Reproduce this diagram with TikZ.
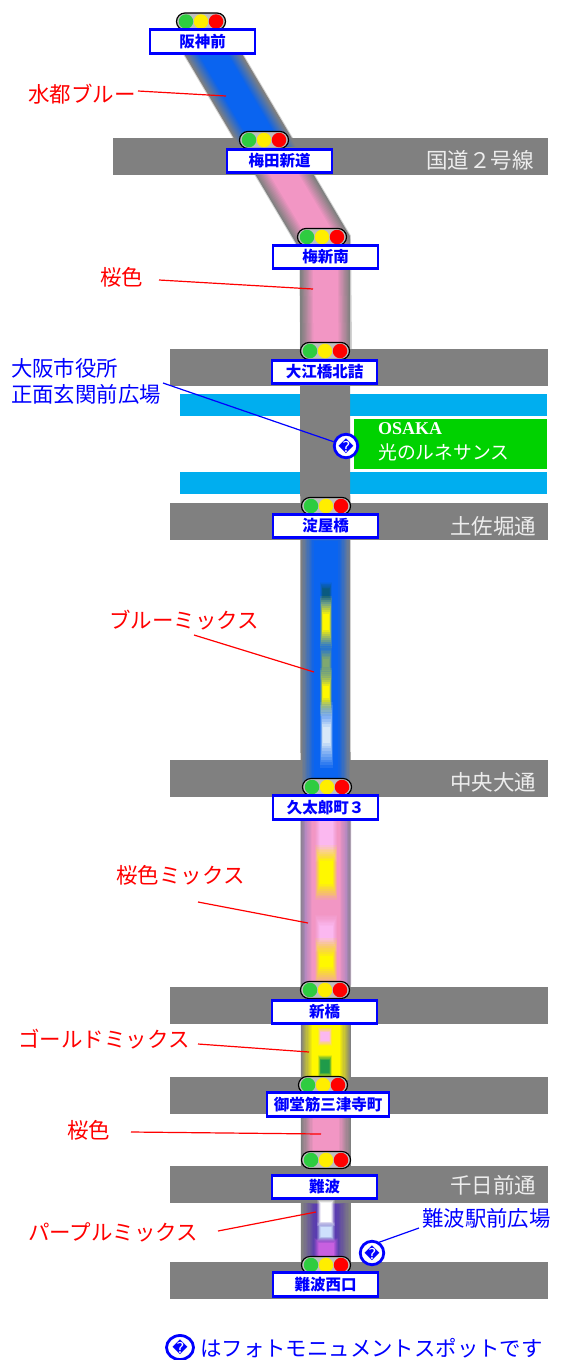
\documentclass[tikz,border=0pt]{standalone}
\usepackage{fontspec}
\usetikzlibrary{shapes.geometric}
\setmainfont{Noto Sans CJK JP}
\newfontfamily\uni{DejaVu Sans}
\newfontfamily\osk{Liberation Serif}
\definecolor{roadgray}{HTML}{808080}
\definecolor{rivercol}{HTML}{00AEEF}
\definecolor{parkcol}{HTML}{00D200}
\definecolor{bluecol}{HTML}{0A64F0}
\definecolor{pinkcol}{HTML}{F296C4}
\definecolor{mauve}{HTML}{B088C0}
\definecolor{lpink}{HTML}{FBB8F0}
\definecolor{yelcol}{HTML}{FFF800}
\definecolor{purpcol}{HTML}{5A3CB0}
\definecolor{orchid}{HTML}{C860E0}
\definecolor{teal}{HTML}{0A5A80}
\definecolor{olive}{HTML}{7FA870}
\definecolor{golgreen}{HTML}{1F9B4A}
\definecolor{palew}{HTML}{D8E8F8}
\definecolor{roadtxt}{HTML}{EDEDED}
\definecolor{lampg}{HTML}{2ECC40}
\definecolor{lampy}{HTML}{FFEE00}
% soft-edged block: linear ramp over ten nested layers
\newcommand\blob[7]{\foreach \k in {1,...,10}{\pgfmathsetmacro\aa{1/(11-\k)}\fill[#5,opacity=\aa] ({#1+(\k-1)*#6},{#3+(\k-1)*#7}) rectangle ({#2-(\k-1)*#6},{#4-(\k-1)*#7});}}
\newcommand\sig[3]{%
  \node[pill] (#1) at (#2,#3) {};
  \node[lamp,fill=lampg] (#1g) at (#2-15,#3) {};
  \node[lamp,fill=lampy] (#1y) at (#2,#3) {};
  \node[lamp,fill=red] (#1r) at (#2+15,#3) {};
}
\tikzset{
  x=1pt,y=-1pt,
  band/.style={fill=roadgray},
  pill/.style={draw=black,line width=1.2pt,fill=black!25,rounded corners=8.5pt,minimum width=49pt,minimum height=17pt,inner sep=0pt},
  lamp/.style={circle,minimum size=14.5pt,inner sep=0pt},
  stn/.style={draw=blue,line width=2.7pt,fill=white,text=blue,inner sep=0pt,minimum width=105pt,minimum height=23.5pt,font=\fontsize{15.5}{15.5}\selectfont\bfseries},
  rname/.style={anchor=west,inner sep=0pt,text=roadtxt,font=\fontsize{21.5}{21.5}\selectfont},
  redt/.style={anchor=west,inner sep=0pt,text=red,font=\fontsize{21.5}{21.5}\selectfont},
  bluet/.style={anchor=west,inner sep=0pt,text=blue,font=\fontsize{21.4}{21.4}\selectfont},
  redl/.style={draw=red,line width=1.2pt},
  bluel/.style={draw=blue,line width=1.2pt},
  spotc/.style={circle,draw=blue,line width=2.8pt,fill=white,text=blue,minimum size=23.5pt,inner sep=0pt,font=\uni\fontsize{15}{15}\selectfont},
  spotw/.style={ellipse,draw=blue,line width=2.8pt,fill=white,text=blue,minimum width=27pt,minimum height=24pt,inner sep=0pt,font=\uni\fontsize{15}{15}\selectfont},
}
\begin{document}
\begin{tikzpicture}
\useasboundingbox (0,0) rectangle (561,1360);
\fill[white] (0,0) rectangle (561,1360);
% bands
\fill[band] (113,138) rectangle (548,175);
\fill[band] (170,349) rectangle (548,386);
\fill[band] (170,503) rectangle (548,540);
\fill[band] (170,760) rectangle (548,797);
\fill[band] (170,987) rectangle (548,1024);
\fill[band] (170,1077) rectangle (548,1114);
\fill[band] (170,1166) rectangle (548,1203);
\fill[band] (170,1262) rectangle (548,1299);
% rivers & park
\fill[rivercol] (180,394) rectangle (547,416);
\fill[rivercol] (180,472) rectangle (547,494);
\fill[parkcol] (354,419) rectangle (547,469);
% road
\draw[roadgray,opacity=.35,line width=52pt,line join=miter] (206,42) -- (325,243) -- (326,349);
\draw[roadgray,line width=50pt,line join=miter] (206,42) -- (325,243) -- (326,1270);
\begin{scope}
\clip (100,40) rectangle (400,146);
\foreach \k in {1,...,10}{\pgfmathsetmacro\aa{1/(11-\k)}\pgfmathsetmacro\ww{50-2.5*\k}\draw[bluecol,opacity=\aa,line width=\ww pt] (206,42) -- (275,159);}
\end{scope}
\begin{scope}
\clip (100,174) rectangle (400,346);
\foreach \k in {1,...,10}{\pgfmathsetmacro\aa{1/(11-\k)}\pgfmathsetmacro\ww{50-2.5*\k}\draw[pinkcol,opacity=\aa,line width=\ww pt,line join=miter] (275,159) -- (325,243) -- (326,350);}
\end{scope}
% blue mix
\blob{302}{350}{536}{786}{bluecol}{1.3}{.5}
\blob{320}{332}{582}{604}{teal}{.3}{.8}
\blob{320}{332}{596}{648}{yelcol}{.3}{2}
\blob{320}{332}{645}{680}{olive}{.3}{1.5}
\blob{320}{332}{668}{716}{yelcol}{.3}{2}
\blob{320}{333}{702}{768}{palew}{.3}{2.8}
% pink mix
\blob{300}{352}{820}{985}{mauve}{.6}{.1}
\blob{305}{347}{820}{985}{pinkcol}{.8}{.1}
\blob{315}{337}{812}{862}{lpink}{.5}{1}
\blob{315}{337}{845}{900}{yelcol}{.5}{1.8}
\blob{315}{337}{915}{952}{lpink}{.5}{1.2}
\blob{315}{337}{938}{985}{yelcol}{.5}{2}
% gold mix
\blob{302}{350}{1024}{1080}{yelcol}{1.1}{.1}
\blob{318}{332}{1027}{1046}{lpink}{.3}{.6}
\blob{318}{332}{1055}{1078}{golgreen}{.3}{.6}
% pink
\blob{302}{350}{1114}{1153}{pinkcol}{1.2}{.1}
% purple mix
\blob{303}{349}{1203}{1262}{purpcol}{1.3}{.1}
\blob{317}{335}{1198}{1226}{white}{.4}{.5}
\blob{317}{335}{1222}{1242}{white!80!bluecol}{.4}{.6}
\blob{314}{338}{1238}{1262}{orchid}{.5}{.6}
% leaders
\coordinate (a1) at (138,91); \coordinate (a2) at (226,96);
\coordinate (b1) at (159,280); \coordinate (b2) at (313,289);
\coordinate (c1) at (194,635); \coordinate (c2) at (314,672);
\coordinate (d1) at (198,902); \coordinate (d2) at (308,923);
\coordinate (e1) at (198,1044); \coordinate (e2) at (309,1052);
\coordinate (f1) at (131,1132); \coordinate (f2) at (321,1134);
\coordinate (g1) at (218,1231); \coordinate (g2) at (316,1212);
\foreach \p/\q in {a1/a2,b1/b2,c1/c2,d1/d2,e1/e2,f1/f2,g1/g2}{\draw[redl] (\p) -- (\q);}
% signals
\sig{s1}{201}{21.5}
\sig{s2}{264}{140}
\sig{s3}{322}{237}
\sig{s4}{325}{351}
\sig{s5}{326}{506}
\sig{s6}{327}{787}
\sig{s7}{325}{990}
\sig{s8}{323}{1085}
\sig{s9}{326}{1160}
\sig{s10}{326}{1265}
% stations
\node[stn] (n1) at (202.5,41.5) {阪神前};
\node[stn] (n2) at (279.5,161) {梅田新道};
\node[stn] (n3) at (325.5,257) {梅新南};
\node[stn] (n4) at (324.5,372) {大江橋北詰};
\node[stn] (n5) at (325.5,526) {淀屋橋};
\node[stn] (n6) at (325.5,807.5) {久太郎町３};
\node[stn] (n7) at (324.5,1012) {新橋};
\node[stn,minimum width=122pt] (n8) at (328,1104.5) {御堂筋三津寺町};
\node[stn] (n9) at (324.5,1187) {難波};
\node[stn] (n10) at (325.5,1284.5) {難波西口};
% road names
\node[rname] (r1) at (426,160) {国道２号線};
\node[rname] (r2) at (450,526) {土佐堀通};
\node[rname] (r3) at (450,782) {中央大通};
\node[rname] (r4) at (450,1185) {千日前通};
% park
\node[anchor=west,inner sep=0pt,text=white,font=\fontsize{18}{18}\selectfont\osk\bfseries] (p1) at (378,429) {OSAKA};
\node[anchor=west,inner sep=0pt,text=white,font=\fontsize{18.8}{19}\selectfont] (p2) at (378,452) {光のルネサンス};
% red labels
\node[redt] (t1) at (28,94) {水都ブルー};
\node[redt] (t2) at (100,277) {桜色};
\node[redt] (t3) at (109,620) {ブルーミックス};
\node[redt] (t4) at (116,875) {桜色ミックス};
\node[redt] (t5) at (18,1039) {ゴールドミックス};
\node[redt] (t6) at (67,1130) {桜色};
\node[redt] (t7) at (28,1232) {パープルミックス};
% blue labels and spots
\node[bluet] (u1) at (11,368) {大阪市役所};
\node[bluet] (u2) at (11,394) {正面玄関前広場};
\node[bluet] (u3) at (422,1218) {難波駅前広場};
\node[spotc] (o1) at (346,446) {^^^^fffd};
\node[spotc] (o2) at (372,1253) {^^^^fffd};
\node[spotw] (o3) at (180,1347.5) {^^^^fffd};
\node[bluet] (u4) at (200,1348) {はフォトモニュメントスポットです};
\coordinate (h1) at (163,383);
\coordinate (h2) at (419,1228);
\coordinate (h3) at (377,1243);
\draw[bluel] (h1) -- (o1);
\draw[bluel] (h2) -- (h3);
\end{tikzpicture}
\end{document}
